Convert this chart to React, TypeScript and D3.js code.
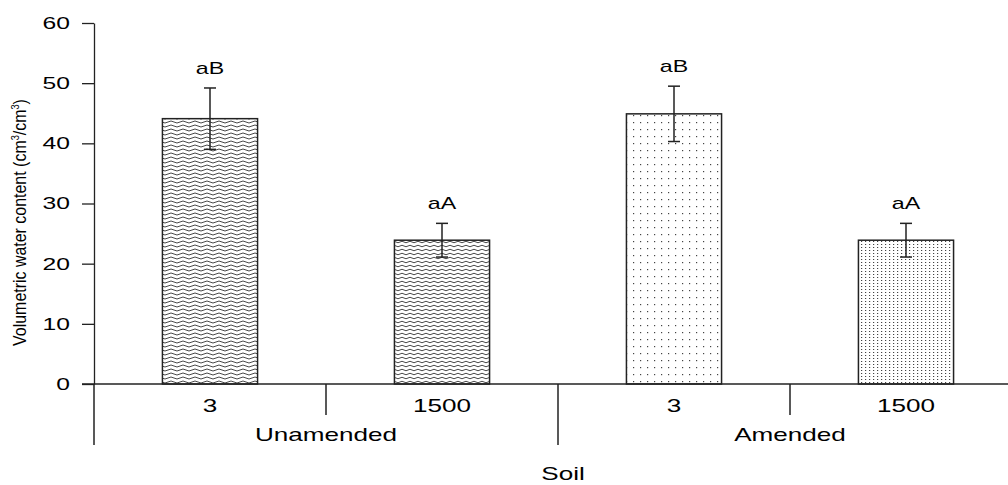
import React, { useEffect, useRef } from 'react';
import * as d3 from 'd3';

const groups = ['Unamended', 'Amended'];
const pressures = ['3', '1500'];
const means = [44.1, 23.9, 44.9, 23.9];
const errors = [5.1, 2.8, 4.6, 2.8];
const letters = ['aB', 'aA', 'aB', 'aA'];
const patterns = ['wave1', 'wave2', 'dots1', 'dots2'];
const yTicks = [0, 10, 20, 30, 40, 50, 60];

const STRETCH = 1.45; // the source picture is stretched sideways
const FONT = 'Arial, Liberation Sans';

const App = () => {
  const ref = useRef<SVGSVGElement | null>(null);

  useEffect(() => {
    const svg = d3.select(ref.current);
    svg.selectAll('*').remove();

    const wideText = (x: number, y: number, str: string, size: number) =>
      svg.append('text')
        .attr('transform', `translate(${x},${y}) scale(${STRETCH},1)`)
        .attr('text-anchor', 'middle')
        .attr('font-family', FONT)
        .attr('font-size', size)
        .attr('fill', '#000')
        .text(str);

    const defs = svg.append('defs');
    // big wave
    const w1 = defs.append('pattern').attr('id', 'wave1').attr('patternUnits', 'userSpaceOnUse')
      .attr('width', 12).attr('height', 4);
    w1.append('path').attr('d', 'M0,2 Q3,0 6,2 T12,2').attr('fill', 'none').attr('stroke', '#333').attr('stroke-width', 0.9);
    // small wave
    const w2 = defs.append('pattern').attr('id', 'wave2').attr('patternUnits', 'userSpaceOnUse')
      .attr('width', 8).attr('height', 4);
    w2.append('path').attr('d', 'M0,2 Q2,0.5 4,2 T8,2').attr('fill', 'none').attr('stroke', '#333').attr('stroke-width', 0.9);
    // sparse dots
    const d1 = defs.append('pattern').attr('id', 'dots1').attr('patternUnits', 'userSpaceOnUse')
      .attr('width', 7).attr('height', 7);
    d1.append('rect').attr('x', 3).attr('y', 3).attr('width', 1.2).attr('height', 1.2).attr('fill', '#444');
    // dense dots
    const d2 = defs.append('pattern').attr('id', 'dots2').attr('patternUnits', 'userSpaceOnUse')
      .attr('width', 4).attr('height', 3);
    d2.append('rect').attr('x', 1).attr('y', 1).attr('width', 1.2).attr('height', 1).attr('fill', '#444');

    const x0 = 94;
    const keys = d3.range(4).map(String);
    const x = d3.scaleBand().domain(keys).range([x0, x0 + 232 * 4]).paddingInner(0.59).paddingOuter(0.295);
    const y = d3.scaleLinear().domain([0, 60]).range([384, 23]);

    // y axis
    const yAxis = d3.axisLeft(y).tickValues(yTicks).tickSize(12).tickSizeOuter(0).tickPadding(12);
    const ga = svg.append('g').attr('transform', `translate(${x0},0)`).call(yAxis);
    ga.select('.domain').attr('stroke', '#222').attr('stroke-width', 1.3);
    ga.selectAll('.tick line').attr('stroke', '#222').attr('stroke-width', 1.3);
    ga.selectAll('text')
      .attr('x', -24 / STRETCH)
      .attr('transform', `scale(${STRETCH},1)`)
      .attr('font-family', FONT).attr('font-size', 17).attr('fill', '#000');

    svg.append('text')
      .attr('transform', `translate(26,${(y(0) + y(60)) / 2 + 19}) rotate(-90) scale(0.84,1)`)
      .attr('text-anchor', 'middle')
      .attr('font-family', FONT)
      .attr('font-size', 19)
      .attr('fill', '#000')
      .html('Volumetric water content (cm<tspan dy="-7" font-size="11">3</tspan><tspan dy="7">/cm</tspan><tspan dy="-7" font-size="11">3</tspan><tspan dy="7">)</tspan>');

    // bars
    svg.selectAll('.bar').data(means).join('rect')
      .attr('x', (d, i) => x(keys[i])!)
      .attr('y', d => y(d))
      .attr('width', x.bandwidth())
      .attr('height', d => y(0) - y(d))
      .attr('fill', (d, i) => `url(#${patterns[i]})`)
      .attr('stroke', '#222').attr('stroke-width', 1.5);

    // error bars + letters + tick labels
    means.forEach((m, i) => {
      const cx = x(keys[i])! + x.bandwidth() / 2;
      const g = svg.append('g').attr('stroke', '#222').attr('stroke-width', 1.5);
      g.append('line').attr('x1', cx).attr('x2', cx).attr('y1', y(m + errors[i])).attr('y2', y(m - errors[i]));
      g.append('line').attr('x1', cx - 6).attr('x2', cx + 6).attr('y1', y(m + errors[i])).attr('y2', y(m + errors[i]));
      g.append('line').attr('x1', cx - 6).attr('x2', cx + 6).attr('y1', y(m - errors[i])).attr('y2', y(m - errors[i]));
      wideText(cx, y(m + errors[i]) - 14, letters[i], 16);
      wideText(cx, 412, pressures[i % 2], 18);
    });

    // x axis line
    svg.append('line').attr('x1', x0 - 12).attr('x2', 1008).attr('y1', y(0)).attr('y2', y(0))
      .attr('stroke', '#222').attr('stroke-width', 1.3);

    // separators
    const step = x.step();
    [0, 2, 4].forEach(k => {
      svg.append('line').attr('x1', x0 + step * k).attr('x2', x0 + step * k).attr('y1', y(0)).attr('y2', 445)
        .attr('stroke', '#222').attr('stroke-width', 1.5);
    });
    [1, 3].forEach(k => {
      svg.append('line').attr('x1', x0 + step * k).attr('x2', x0 + step * k).attr('y1', y(0)).attr('y2', 415)
        .attr('stroke', '#222').attr('stroke-width', 1.5);
    });

    groups.forEach((gname, gi) => {
      wideText(x0 + step * (2 * gi + 1), 441, gname, 18);
    });

    wideText(563, 480, 'Soil', 18);
  }, []);

  return (
    <svg ref={ref} width={1008} height={485}
      style={{ position: 'absolute', left: 0, top: 0, background: '#fff' }} />
  );
};

export default App;
